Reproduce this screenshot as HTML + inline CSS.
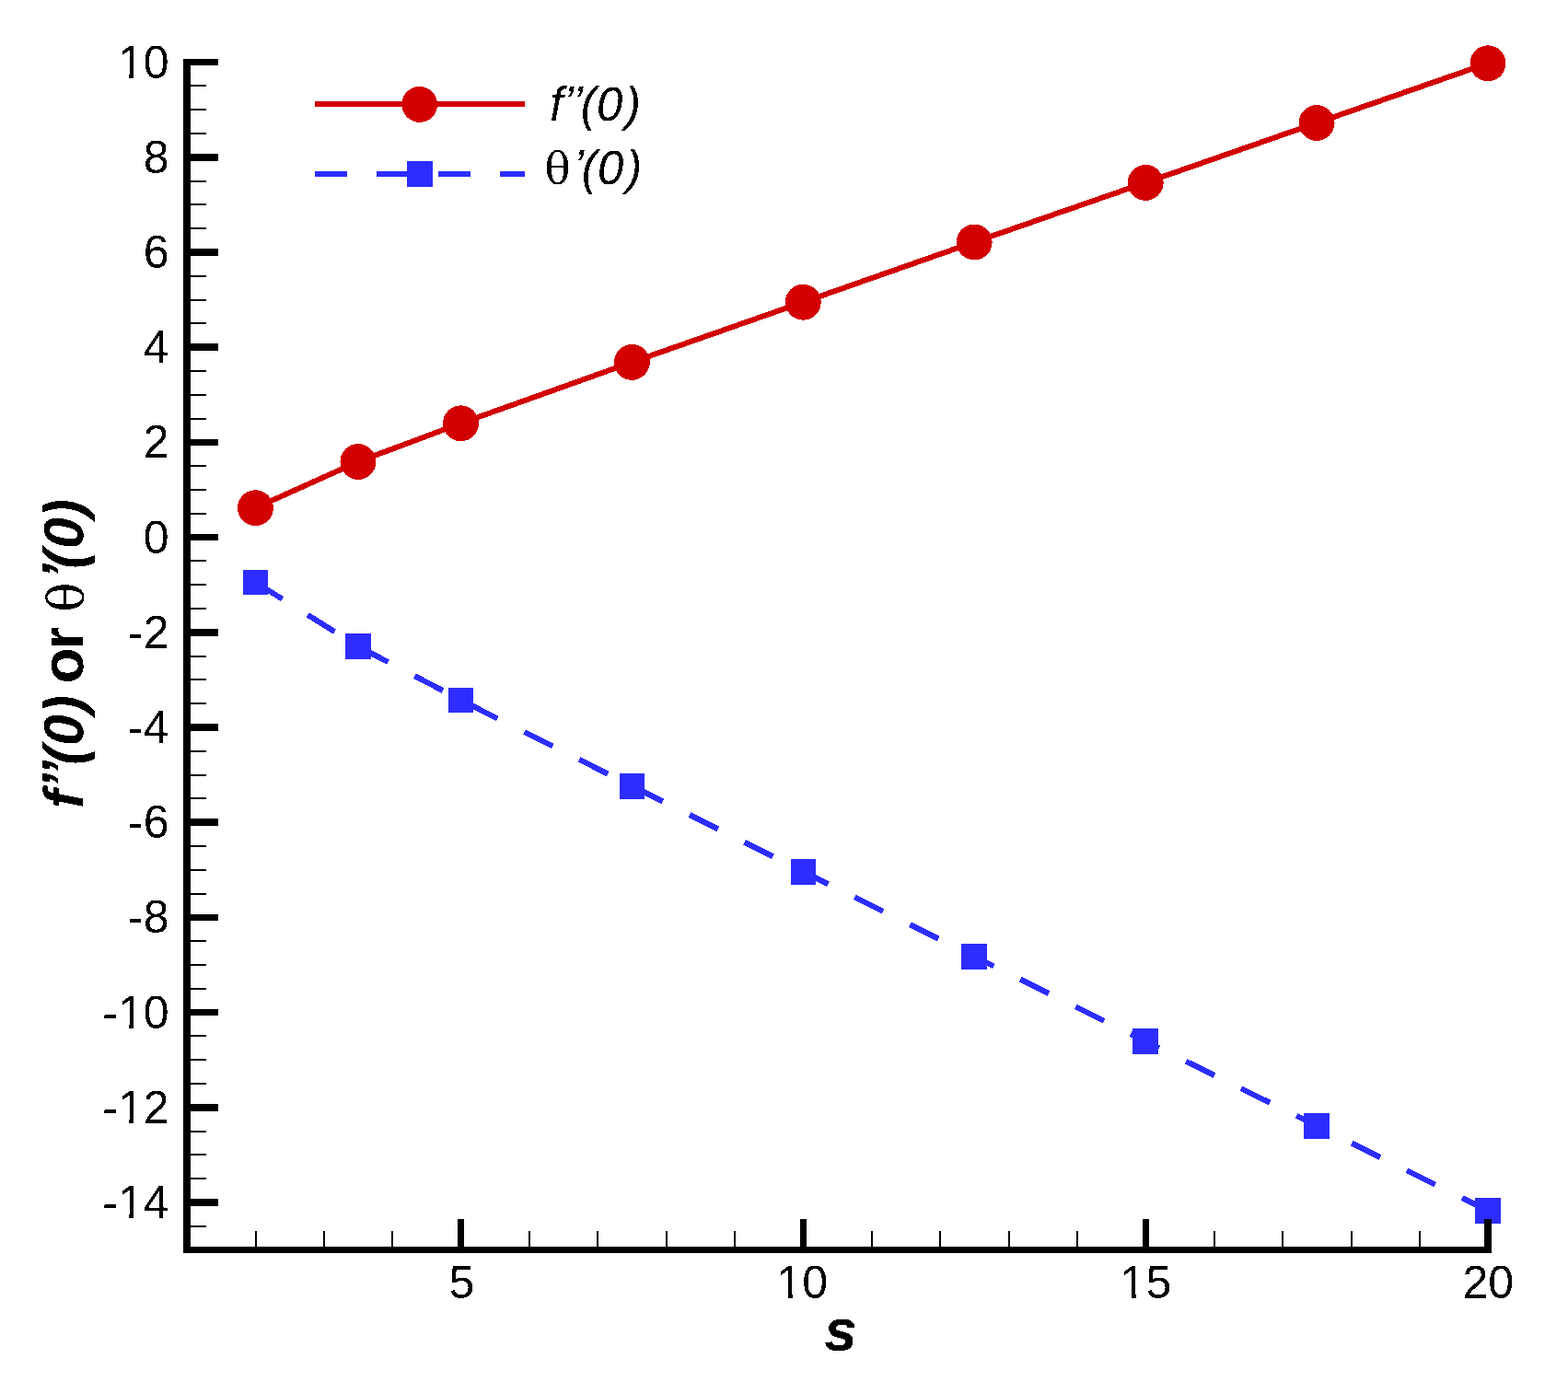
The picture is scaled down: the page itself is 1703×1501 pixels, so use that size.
<!DOCTYPE html>
<html lang="en">
<head>
<meta charset="utf-8">
<title>f’’(0) or θ’(0) versus s</title>
<style>
html,body{margin:0;padding:0;background:#fff;}
body{width:1703px;height:1501px;overflow:hidden;}
svg{display:block;}
text{font-family:"Liberation Sans",sans-serif;fill:#000;white-space:pre;}
.lab{font-size:50px;}
.tit{font-size:61px;font-weight:bold;}
.leg{font-size:52.5px;font-style:italic;}
.xh{font-size:64px;}
.sym{font-family:"DejaVu Serif","Liberation Serif",serif;font-style:normal;font-weight:normal;}
.it{font-style:italic;}
.axis{fill:#000;shape-rendering:crispEdges;}
</style>
</head>
<body>
<svg width="1703" height="1501" viewBox="0 0 1703 1501" role="img" aria-label="Plot of f’’(0) and θ’(0) versus s">
<defs>
<filter id="bw" x="0" y="0" width="1703" height="1501" filterUnits="userSpaceOnUse" color-interpolation-filters="sRGB"><feComponentTransfer><feFuncA type="discrete" tableValues="0 1"/></feComponentTransfer></filter>
<clipPath id="c1e" clipPathUnits="userSpaceOnUse"><path clip-rule="evenodd" d="M-120,-60H60V20H-120ZM-56.62,-4.04H-43.19V3H-56.62ZM-38.47,-4.04H-28.31V3H-38.47Z"/></clipPath>
<clipPath id="c1m" clipPathUnits="userSpaceOnUse"><path clip-rule="evenodd" d="M-120,-60H60V20H-120ZM-28.81,-4.04H-15.38V3H-28.81ZM-10.67,-4.04H-0.5V3H-10.67Z"/></clipPath>
</defs>
<rect x="0" y="0" width="1703" height="1501" fill="#fff"/>
<g id="series" shape-rendering="crispEdges">
<polyline points="277.4,551.7 388.9,501.5 500.5,459.8 686.4,393.4 872.3,328.2 1058.2,263.0 1244.2,198.4 1430.1,133.5 1616.0,68.8" fill="none" stroke="#d20000" stroke-width="6" stroke-linejoin="round"/>
<polyline points="277.4,632.4 388.9,702.0 500.5,760.3 686.4,853.7 872.3,946.7 1058.2,1038.9 1244.2,1131.0 1430.1,1222.8 1616.0,1315.0" fill="none" stroke="#2d2dff" stroke-width="6" stroke-linejoin="round" stroke-dasharray="34.5 32.4"/>
<g fill="#d20000">
<circle cx="277.4" cy="551.7" r="19.45"/>
<circle cx="388.9" cy="501.5" r="19.45"/>
<circle cx="500.5" cy="459.8" r="19.45"/>
<circle cx="686.4" cy="393.4" r="19.45"/>
<circle cx="872.3" cy="328.2" r="19.45"/>
<circle cx="1058.2" cy="263.0" r="19.45"/>
<circle cx="1244.2" cy="198.4" r="19.45"/>
<circle cx="1430.1" cy="133.5" r="19.45"/>
<circle cx="1616.0" cy="68.8" r="19.45"/>
</g>
<g fill="#2d2dff">
<rect x="263.6" y="618.6" width="27.6" height="27.6"/>
<rect x="375.1" y="688.2" width="27.6" height="27.6"/>
<rect x="486.7" y="746.5" width="27.6" height="27.6"/>
<rect x="672.6" y="839.9" width="27.6" height="27.6"/>
<rect x="858.5" y="932.9" width="27.6" height="27.6"/>
<rect x="1044.4" y="1025.1" width="27.6" height="27.6"/>
<rect x="1230.4" y="1117.2" width="27.6" height="27.6"/>
<rect x="1416.3" y="1209.0" width="27.6" height="27.6"/>
<rect x="1602.2" y="1301.2" width="27.6" height="27.6"/>
</g>
</g>
<g id="legend">
<g shape-rendering="crispEdges">
<rect x="342" y="110" width="228" height="6" fill="#d20000"/>
<circle cx="455.7" cy="113.4" r="19.45" fill="#d20000"/>
<g fill="#2d2dff">
<rect x="342" y="186" width="35" height="6"/>
<rect x="409" y="186" width="35" height="6"/>
<rect x="476" y="186" width="35" height="6"/>
<rect x="543" y="186" width="27" height="6"/>
<rect x="442" y="175" width="28" height="28"/>
</g></g>
<g class="leg" filter="url(#bw)">
<text transform="translate(0,131) scale(0.97,1)" x="615.63 630.69 641.1 650.32 668.06 700.14" y="0 -0.8 -0.8 0 0 0">f’’(0)</text>
<text transform="translate(0,200) scale(0.97,1)"><tspan class="sym" style="font-size:48.3px" x="609.78" y="0.4">θ</tspan><tspan x="642.03 651.3 669.09 701.22" y="-0.8 0 0 0">’(0)</tspan></text>
</g>
</g>
<g id="axes" class="axis">
<rect x="199" y="64" width="8" height="1297"/>
<rect x="199" y="1354" width="1421" height="7"/>
<rect x="207" y="1302" width="30" height="8"/>
<rect x="207" y="1199" width="30" height="8"/>
<rect x="207" y="1096" width="30" height="7"/>
<rect x="207" y="993" width="30" height="7"/>
<rect x="207" y="889" width="30" height="8"/>
<rect x="207" y="786" width="30" height="8"/>
<rect x="207" y="683" width="30" height="8"/>
<rect x="207" y="580" width="30" height="7"/>
<rect x="207" y="477" width="30" height="7"/>
<rect x="207" y="373" width="30" height="8"/>
<rect x="207" y="270" width="30" height="8"/>
<rect x="207" y="167" width="30" height="8"/>
<rect x="207" y="64" width="30" height="7"/>
<rect x="207" y="1331" width="17" height="2"/>
<rect x="207" y="1279" width="17" height="2"/>
<rect x="207" y="1253" width="17" height="2"/>
<rect x="207" y="1228" width="17" height="2"/>
<rect x="207" y="1176" width="17" height="2"/>
<rect x="207" y="1150" width="17" height="2"/>
<rect x="207" y="1124" width="17" height="2"/>
<rect x="207" y="1073" width="17" height="2"/>
<rect x="207" y="1047" width="17" height="2"/>
<rect x="207" y="1021" width="17" height="2"/>
<rect x="207" y="970" width="17" height="2"/>
<rect x="207" y="944" width="17" height="2"/>
<rect x="207" y="918" width="17" height="2"/>
<rect x="207" y="866" width="17" height="2"/>
<rect x="207" y="841" width="17" height="2"/>
<rect x="207" y="815" width="17" height="2"/>
<rect x="207" y="763" width="17" height="2"/>
<rect x="207" y="737" width="17" height="2"/>
<rect x="207" y="712" width="17" height="2"/>
<rect x="207" y="660" width="17" height="2"/>
<rect x="207" y="634" width="17" height="2"/>
<rect x="207" y="608" width="17" height="2"/>
<rect x="207" y="557" width="17" height="2"/>
<rect x="207" y="531" width="17" height="2"/>
<rect x="207" y="505" width="17" height="2"/>
<rect x="207" y="454" width="17" height="2"/>
<rect x="207" y="428" width="17" height="2"/>
<rect x="207" y="402" width="17" height="2"/>
<rect x="207" y="350" width="17" height="2"/>
<rect x="207" y="325" width="17" height="2"/>
<rect x="207" y="299" width="17" height="2"/>
<rect x="207" y="247" width="17" height="2"/>
<rect x="207" y="221" width="17" height="2"/>
<rect x="207" y="196" width="17" height="2"/>
<rect x="207" y="144" width="17" height="2"/>
<rect x="207" y="118" width="17" height="2"/>
<rect x="207" y="92" width="17" height="2"/>
<rect x="497" y="1324" width="7" height="30"/>
<rect x="869" y="1324" width="7" height="30"/>
<rect x="1241" y="1324" width="7" height="30"/>
<rect x="1612" y="1324" width="8" height="30"/>
<rect x="277" y="1337" width="2" height="17"/>
<rect x="351" y="1337" width="2" height="17"/>
<rect x="425" y="1337" width="2" height="17"/>
<rect x="574" y="1337" width="2" height="17"/>
<rect x="648" y="1337" width="2" height="17"/>
<rect x="723" y="1337" width="2" height="17"/>
<rect x="797" y="1337" width="2" height="17"/>
<rect x="946" y="1337" width="2" height="17"/>
<rect x="1020" y="1337" width="2" height="17"/>
<rect x="1095" y="1337" width="2" height="17"/>
<rect x="1169" y="1337" width="2" height="17"/>
<rect x="1318" y="1337" width="2" height="17"/>
<rect x="1392" y="1337" width="2" height="17"/>
<rect x="1467" y="1337" width="2" height="17"/>
<rect x="1541" y="1337" width="2" height="17"/>
</g>
<g id="ticklabels" class="lab" filter="url(#bw)">
<text transform="translate(183.5,85)" text-anchor="end" clip-path="url(#c1e)">10</text>
<text transform="translate(183.5,188)" text-anchor="end">8</text>
<text transform="translate(183.5,291)" text-anchor="end">6</text>
<text transform="translate(183.5,394)" text-anchor="end">4</text>
<text transform="translate(183.5,497)" text-anchor="end">2</text>
<text transform="translate(183.5,601)" text-anchor="end">0</text>
<text transform="translate(183.5,704)" text-anchor="end">-2</text>
<text transform="translate(183.5,807)" text-anchor="end">-4</text>
<text transform="translate(183.5,910)" text-anchor="end">-6</text>
<text transform="translate(183.5,1013)" text-anchor="end">-8</text>
<text transform="translate(183.5,1117)" text-anchor="end" clip-path="url(#c1e)">-10</text>
<text transform="translate(183.5,1220)" text-anchor="end" clip-path="url(#c1e)">-12</text>
<text transform="translate(183.5,1323)" text-anchor="end" clip-path="url(#c1e)">-14</text>
<text transform="translate(501.5,1410)" text-anchor="middle">5</text>
<text transform="translate(871.3,1410)" text-anchor="middle" clip-path="url(#c1m)">10</text>
<text transform="translate(1244.4,1410)" text-anchor="middle" clip-path="url(#c1m)">15</text>
<text transform="translate(1616.2,1410)" text-anchor="middle">20</text>
</g>
<g id="titles" class="tit" filter="url(#bw)">
<text class="it xh" x="895.3" y="1467">s</text>
<text transform="translate(90.3,876) rotate(-90)"><tspan class="it" x="-2.1 18.75 32.65 45.25 65.9 100.55" y="0 -2.3 -2.3 0 0 0">f’’(0)</tspan><tspan class="xh" x="120 133.55 170.6 200" y="0 0 0 0"> or </tspan><tspan class="sym" style="font-size:53.5px" x="211.35" y="0">θ</tspan><tspan class="it" x="246.5 258.25 279.9 313.55" y="-2.3 0 0 0">’(0)</tspan></text>
</g>
</svg>
</body>
</html>
